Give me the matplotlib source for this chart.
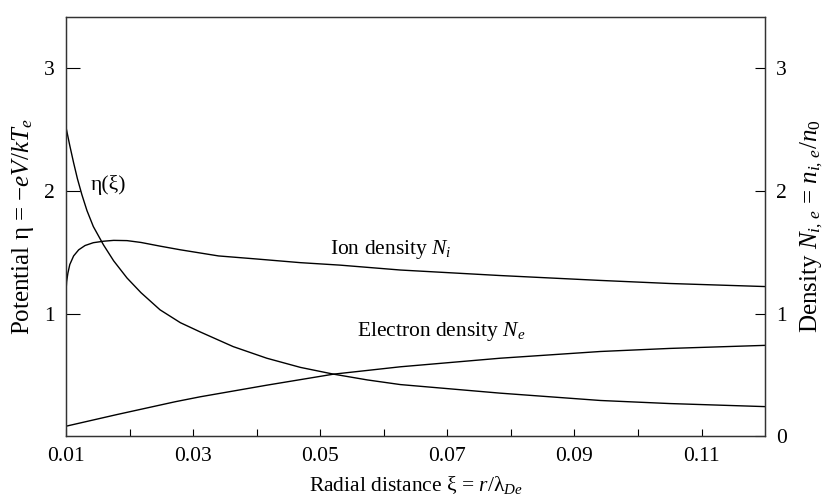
import matplotlib
matplotlib.use("Agg")
import matplotlib.pyplot as plt
import numpy as np

plt.rcParams['font.family'] = ['Liberation Serif', 'DejaVu Serif']
plt.rcParams['mathtext.fontset'] = 'custom'
plt.rcParams['mathtext.rm'] = 'Liberation Serif'
plt.rcParams['mathtext.it'] = 'Liberation Serif:italic'

# data
x_ion = [0.0100, 0.0101, 0.0103, 0.0106, 0.0112, 0.0120, 0.0130, 0.0143, 0.0159,
         0.0175, 0.0196, 0.0218, 0.0248, 0.0280, 0.0316, 0.0340, 0.0400, 0.0469,
         0.0531, 0.0626, 0.0783, 0.0941, 0.1050, 0.1200]
n_ion = [1.18, 1.26, 1.33, 1.40, 1.47, 1.52, 1.555, 1.578, 1.59,
         1.597, 1.595, 1.58, 1.55, 1.52, 1.49, 1.47, 1.445, 1.415,
         1.395, 1.355, 1.31, 1.27, 1.245, 1.22]

x_el = [0.0100, 0.0180, 0.0272, 0.0311, 0.0416, 0.0521, 0.0626, 0.0783, 0.0941,
        0.1050, 0.1200]
n_el = [0.08, 0.175, 0.28, 0.32, 0.415, 0.505, 0.565, 0.635, 0.69,
        0.715, 0.74]

x_eta = [0.0100, 0.0106, 0.0112, 0.0118, 0.0125, 0.0133, 0.0143, 0.0159, 0.0175,
         0.0196, 0.0218, 0.0248, 0.0280, 0.0311, 0.0363, 0.0416, 0.0469, 0.0521,
         0.0574, 0.0626, 0.0783, 0.0941, 0.1050, 0.1200]
eta = [2.52, 2.37, 2.23, 2.10, 1.97, 1.84, 1.71, 1.56, 1.43,
       1.29, 1.17, 1.03, 0.925, 0.85, 0.73, 0.635, 0.56, 0.505,
       0.458, 0.42, 0.35, 0.29, 0.265, 0.24]

xticks = [0.01, 0.03, 0.05, 0.07, 0.09, 0.11]
xticklabels = ['0.01', '0.03', '0.05', '0.07', '0.09', '0.11']
yticks_left = [1, 2, 3]
yticks_right = [0, 1, 2, 3]

fig = plt.figure(figsize=(8.28, 5.01), dpi=100)
ax = fig.add_axes([0.0797, 0.1297, 0.8443, 0.8363])

lw = 1.0
ax.plot(x_ion, n_ion, color='black', lw=lw)
ax.plot(x_el, n_el, color='black', lw=lw)
ax.plot(x_eta, eta, color='black', lw=lw)

ax.set_xlim(0.01, 0.12)
ax.set_ylim(0, 3.42)
ax.set_xticks(xticks)
ax.set_xticklabels(xticklabels)
ax.set_xticks(np.arange(0.02, 0.12, 0.02), minor=True)
ax.set_yticks(yticks_left)
ax.set_yticklabels([str(v) for v in yticks_left])

fs = 15.5
fl = 18
ax.tick_params(axis='x', which='both', direction='in', length=5, width=0.8,
               labelsize=fs, pad=8, top=False)
ax.tick_params(axis='y', direction='in', length=10, width=0.8, labelsize=fs, pad=8)

ax2 = ax.twinx()
ax2.set_ylim(0, 3.42)
ax2.set_yticks(yticks_right)
ax2.set_yticklabels([str(v) for v in yticks_right])
ax2.tick_params(axis='y', direction='in', length=7, width=0.8, labelsize=fs, pad=8)

for a in (ax, ax2):
    for s in a.spines.values():
        s.set_linewidth(0.9)
        s.set_color('#333333')

ax.set_xlabel(r'Radial distance ξ = $r$/λ$_{De}$', fontsize=fs, labelpad=6)
ax.set_ylabel(r'Potential η = −$eV/kT_e$', fontsize=fl, labelpad=6)
ax2.set_ylabel(r'Density $N_{i,\,e}$ = $n_{i,\,e}/n_0$', fontsize=fl, labelpad=8)

ax.text(0.0138, 2.05, 'η(ξ)', fontsize=fs, va='center', ha='left')
ax.text(0.0516, 1.52, r'Ion density $N_i$', fontsize=fs, va='center', ha='left')
ax.text(0.0558, 0.85, r'Electron density $N_e$', fontsize=fs, va='center', ha='left')

fig.savefig('out.png', dpi=100)
